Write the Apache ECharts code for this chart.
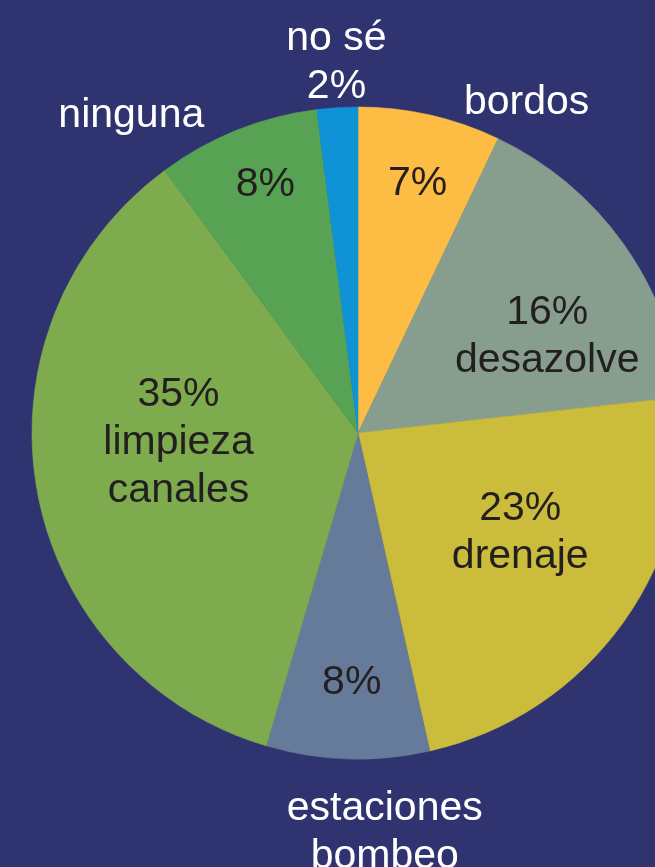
<!DOCTYPE html>
<html>
<head>
<meta charset="utf-8">
<script src="https://cdn.jsdelivr.net/npm/echarts@6/dist/echarts.min.js"></script>
<style>
html,body{margin:0;padding:0;background:#2F3471;}
#c{width:655px;height:867px;}
</style>
</head>
<body>
<div id="c"></div>
<script>
// ---- data ----
const categories = ['bordos', 'desazolve', 'drenaje', 'estaciones bombeo', 'limpieza canales', 'ninguna', 'no sé'];
const values = [7, 16, 23, 8, 35, 8, 2];
// label texts
const innerLabels = ['7%', '16%\ndesazolve', '23%\ndrenaje', '8%', '35%\nlimpieza\ncanales', '8%', ''];
const outerLabels = ['bordos', '', '', 'estaciones\nbombeo', '', 'ninguna', 'no sé\n2%'];

// ---- styling ----
const colors = ['#FDBD45', '#879E8F', '#CBBC3C', '#667B99', '#7EAB4D', '#57A253', '#0F93D6'];
const innerShift = [[23, -87], [54, 0], [27, 3], [-1, 84], [-16, -19], [-31, -94], [0, 0]];
const outerShift = [[132, -168], [0, 0], [0, 0], [32, 234], [0, 0], [-165, -163], [-11, -205]];

const chart = echarts.init(document.getElementById('c'), null, {renderer: 'canvas'});
const font = {fontFamily: 'Liberation Sans, Arial, sans-serif', fontSize: 41, lineHeight: 48};

const pieData = categories.map((c, i) => ({
  name: c, value: values[i],
  itemStyle: {color: colors[i], borderColor: colors[i], borderWidth: 0.6},
  label: {formatter: innerLabels[i], show: innerLabels[i] !== ''}
}));
const ghostData = categories.map((c, i) => ({
  name: c, value: values[i], itemStyle: {color: 'rgba(0,0,0,0)', borderWidth: 0},
  label: {formatter: outerLabels[i], show: outerLabels[i] !== ''}
}));

chart.setOption({
  backgroundColor: '#2F3471',
  animation: false,
  series: [
    {
      type: 'pie',
      center: [358, 433],
      radius: [0, 326],
      startAngle: 90,
      clockwise: true,
      silent: true,
      avoidLabelOverlap: false,
      label: Object.assign({position: 'inside', color: '#231F20'}, font),
      labelLine: {show: false},
      labelLayout: p => ({dx: innerShift[p.dataIndex][0], dy: innerShift[p.dataIndex][1]}),
      data: pieData
    },
    {
      type: 'pie',
      center: [358, 433],
      radius: [0, 326],
      startAngle: 90,
      clockwise: true,
      silent: true,
      avoidLabelOverlap: false,
      label: Object.assign({position: 'inside', color: '#FFFFFF'}, font),
      labelLine: {show: false},
      labelLayout: p => ({dx: outerShift[p.dataIndex][0], dy: outerShift[p.dataIndex][1]}),
      data: ghostData
    }
  ]
});
</script>
</body>
</html>
